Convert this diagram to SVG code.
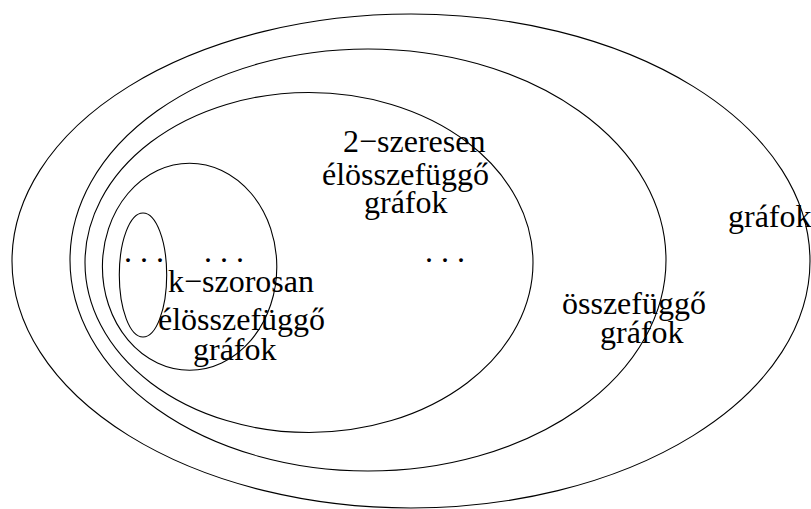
<svg xmlns="http://www.w3.org/2000/svg" width="811" height="509" viewBox="0 0 811 509">
<style>
  .set { fill: none; stroke: #000; stroke-width: 1.1; }
  .lbl { font-family: "Liberation Serif", "Times New Roman", serif; font-size: 32px; fill: #000; }
</style>
<rect width="811" height="509" fill="#fff"/>
<g id="grafok">
  <ellipse class="set" cx="411" cy="261" rx="399" ry="247"/>
  <text class="lbl" x="728" y="227">gráfok</text>
</g>
<g id="osszefuggo">
  <ellipse class="set" cx="368" cy="260" rx="298" ry="211"/>
  <text class="lbl" x="562" y="314">összefüggő</text>
  <text class="lbl" x="600" y="343">gráfok</text>
</g>
<g id="ketszeresen">
  <ellipse class="set" cx="309" cy="262.5" rx="224" ry="170"/>
  <text class="lbl" x="343" y="152">2−szeresen</text>
  <text class="lbl" x="322" y="185">élösszefüggő</text>
  <text class="lbl" x="364" y="213">gráfok</text>
  <text class="lbl" x="425" y="262">. . .</text>
</g>
<g id="kszorosan">
  <ellipse class="set" cx="189.6" cy="266.7" rx="87.2" ry="103.5"/>
  <text class="lbl" x="168" y="292">k−szorosan</text>
  <text class="lbl" x="158" y="330">élösszefüggő</text>
  <text class="lbl" x="193" y="360">gráfok</text>
  <text class="lbl" x="204" y="262">. . .</text>
</g>
<g id="belso">
  <ellipse class="set" cx="143" cy="275" rx="23.7" ry="62"/>
  <text class="lbl" x="124" y="262">. . .</text>
</g>
<g id="connectors"></g>
</svg>
